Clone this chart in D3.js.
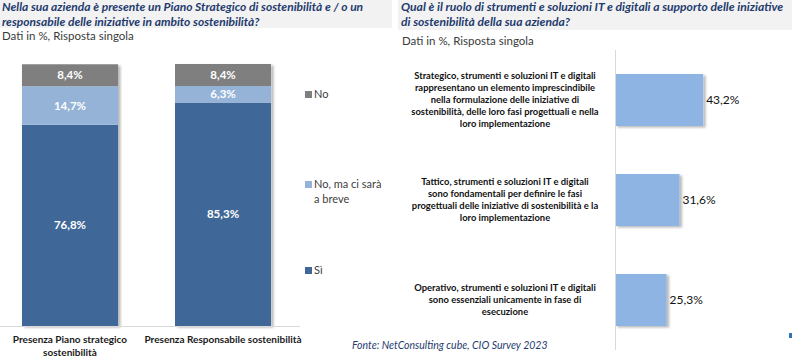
<!DOCTYPE html>
<html><head><meta charset="utf-8">
<script src="https://cdn.jsdelivr.net/npm/d3@7"></script>
<style>
body{margin:0;background:#fff;}
svg{display:block;font-family:Lato,"Open Sans",sans-serif;}
</style></head>
<body><svg id="c" width="792" height="360"></svg>
<script>
// ---- data ----
const leftTitle = ["Nella sua azienda è presente un Piano Strategico di sostenibilità e / o un", "responsabile delle iniziative in ambito sostenibilità?"];
const rightTitle = ["Qual è il ruolo di strumenti e soluzioni IT e digitali a supporto delle iniziative", "di sostenibilità della sua azienda?"];
const subtitle = "Dati in %, Risposta singola";
const source = "Fonte: NetConsulting cube, CIO Survey 2023";

const leftCategories = ["Presenza Piano strategico\nsostenibilità", "Presenza Responsabile sostenibilità"];
const seriesNames = ["Sì", "No, ma ci sarà\na breve", "No"];
const seriesColors = ["#3f6899", "#95b3d7", "#7f7f7f"];
const valuesSi = [76.8, 85.3];
const valuesBreve = [14.7, 6.3];
const valuesNo = [8.4, 8.4];

const rightCategories = [
  "Strategico, strumenti e soluzioni IT e digitali\nrappresentano un elemento imprescindibile\nnella formulazione delle iniziative di\nsostenibilità, delle loro fasi progettuali e nella\nloro implementazione",
  "Tattico, strumenti e soluzioni IT e digitali\nsono fondamentali per definire le fasi\nprogettuali delle iniziative di sostenibilità e la\nloro implementazione",
  "Operativo, strumenti e soluzioni IT e digitali\nsono essenziali unicamente in fase di\nesecuzione"
];
const rightValues = [43.2, 31.6, 25.3];

const fmt = v => d3.format(".1f")(v).replace(".", ",") + "%";

const svg = d3.select("#c");
const defs = svg.append("defs");
const f = defs.append("filter").attr("id","sh").attr("x","-10%").attr("y","-10%").attr("width","130%").attr("height","130%");
f.append("feDropShadow").attr("dx",2.5).attr("dy",1.5).attr("stdDeviation",1).attr("flood-color","#000").attr("flood-opacity",0.28);

const titleColor = "#1f3b6e";

// header bands
svg.append("rect").attr("x",0).attr("y",0).attr("width",392).attr("height",28).attr("fill","#f2f2f2");
svg.append("rect").attr("x",398).attr("y",0).attr("width",394).attr("height",30).attr("fill","#f2f2f2");

svg.append("g").selectAll("text").data(leftTitle).join("text")
  .attr("x",2).attr("y",(d,i)=>11+i*14.5)
  .attr("font-size",12).attr("font-weight",700).attr("font-style","italic").attr("fill",titleColor).text(d=>d);
svg.append("g").selectAll("text").data(rightTitle).join("text")
  .attr("x",401).attr("y",(d,i)=>11+i*14.5)
  .attr("font-size",12.1).attr("font-weight",700).attr("font-style","italic").attr("fill",titleColor).text(d=>d);

svg.append("text").attr("x",2).attr("y",40).attr("font-size",11.5).attr("fill","#3a3a3a").text(subtitle);
svg.append("text").attr("x",402).attr("y",45).attr("font-size",11.5).attr("fill","#3a3a3a").text(subtitle);

// ---- left stacked chart ----
const xL = d3.scaleBand().domain(leftCategories).range([-6.5,299.5]).paddingInner(0.3725).paddingOuter(0.186);
const yL = d3.scaleLinear().domain([0,100]).range([326,64]);
const stackData = leftCategories.map((c,i)=>({cat:c, "Sì":valuesSi[i], [seriesNames[1]]:valuesBreve[i], "No":valuesNo[i]}));
const stacked = d3.stack().keys(seriesNames)(stackData);
const totals = stackData.map((d,i)=>valuesSi[i]+valuesBreve[i]+valuesNo[i]);

const gL = svg.append("g");
gL.selectAll("rect.sh").data(stackData).join("rect").attr("class","sh")
  .attr("x",d=>xL(d.cat)).attr("width",xL.bandwidth())
  .attr("y",(d,i)=>yL(totals[i]))
  .attr("height",(d,i)=>yL(0)-yL(totals[i]))
  .attr("fill","#fff").attr("filter","url(#sh)");
stacked.forEach((s,si)=>{
  const g = gL.append("g");
  g.selectAll("rect").data(s).join("rect")
    .attr("x",d=>xL(d.data.cat)).attr("width",xL.bandwidth())
    .attr("y",d=>yL(d[1])).attr("height",d=>yL(d[0])-yL(d[1]))
    .attr("fill",seriesColors[si]);
  g.selectAll("text").data(s).join("text")
    .attr("x",d=>xL(d.data.cat)+xL.bandwidth()/2)
    .attr("y",d=>(yL(d[0])+yL(d[1]))/2+4)
    .attr("text-anchor","middle").attr("font-size",11.5).attr("font-weight",700).attr("fill","#fff")
    .text(d=>fmt(d[1]-d[0]));
});
svg.append("line").attr("x1",0).attr("x2",300).attr("y1",yL(0)+0.5).attr("y2",yL(0)+0.5).attr("stroke","#d9d9d9").attr("stroke-width",1);
leftCategories.forEach(c=>{
  const t = svg.append("text").attr("text-anchor","middle").attr("font-size",10).attr("font-weight",700).attr("fill","#1a1a1a");
  c.split("\n").forEach((ln,j)=>t.append("tspan").attr("x",xL(c)+xL.bandwidth()/2).attr("y",343+j*12.5).text(ln));
});
// legend
const legendY = [98, 188, 274];
const legendOrder = [2,1,0];
legendOrder.forEach((si,k)=>{
  svg.append("rect").attr("x",305).attr("y",legendY[k]-7).attr("width",7).attr("height",7).attr("fill",seriesColors[si]);
  const t = svg.append("text").attr("font-size",11).attr("fill","#404040");
  seriesNames[si].split("\n").forEach((ln,j)=>t.append("tspan").attr("x",314).attr("y",legendY[k]+j*15).text(ln));
});

// ---- right bar chart ----
const xR = d3.scaleLinear().domain([0,100]).range([615,819]);
const yR = d3.scaleBand().domain(rightCategories).range([50,350]).paddingInner(0.48).paddingOuter(0.24);
const gR = svg.append("g");
gR.selectAll("rect").data(rightCategories).join("rect")
  .attr("x",xR(0)).attr("y",d=>yR(d)).attr("height",yR.bandwidth())
  .attr("width",(d,i)=>xR(rightValues[i])-xR(0))
  .attr("fill","#8eb4e3").attr("filter","url(#sh)");
gR.selectAll("text.v").data(rightCategories).join("text").attr("class","v")
  .attr("x",(d,i)=>xR(rightValues[i])+3).attr("y",d=>yR(d)+yR.bandwidth()/2+4)
  .attr("font-size",12).attr("fill","#111").text((d,i)=>fmt(rightValues[i]));
svg.append("line").attr("x1",615.5).attr("x2",615.5).attr("y1",50).attr("y2",350).attr("stroke","#d9d9d9");
rightCategories.forEach(c=>{
  const lines = c.split("\n");
  const cy = yR(c)+yR.bandwidth()/2;
  const t = svg.append("text").attr("text-anchor","middle").attr("font-size",9.4).attr("font-weight",700).attr("fill","#111");
  lines.forEach((ln,j)=>t.append("tspan").attr("x",505).attr("y",cy+(j-(lines.length-1)/2)*12+3).text(ln));
});

svg.append("text").attr("x",352).attr("y",349).attr("font-size",10.5).attr("font-style","italic").attr("fill",titleColor).text(source);
svg.append("rect").attr("x",789).attr("y",333).attr("width",3).attr("height",5).attr("fill","#2e75b6");
</script></body></html>
